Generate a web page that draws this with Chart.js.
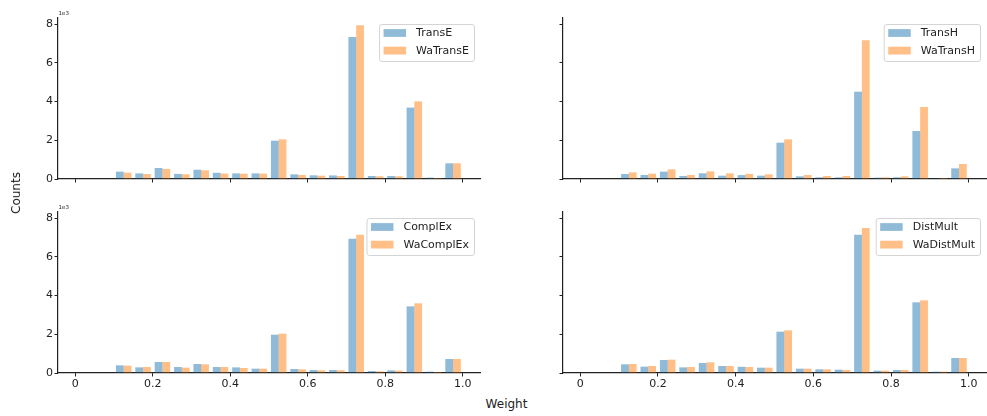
<!DOCTYPE html>
<html>
<head>
<meta charset="utf-8">
<script src="https://cdn.jsdelivr.net/npm/chart.js@4.4.1/dist/chart.umd.min.js"></script>
<style>
    html, body { margin: 0; padding: 0; background: #fff; }
    #wrap { position: relative; width: 987px; height: 416px; overflow: hidden; font-family: "DejaVu Sans", sans-serif; }
    canvas { position: absolute; }
    .axlab { position: absolute; font-size: 12px; line-height: 12px; color: #222; white-space: nowrap; }
</style>
</head>
<body>
<div id="wrap">
    <canvas id="transE" width="493" height="200" style="left:0;top:0"></canvas>
    <canvas id="transH" width="482" height="200" style="left:505px;top:0"></canvas>
    <canvas id="complEx" width="493" height="200" style="left:0;top:194px"></canvas>
    <canvas id="distMult" width="482" height="200" style="left:505px;top:194px"></canvas>
    <div class="axlab" style="left:15.5px;top:193px;transform:translate(-50%,-50%) rotate(-90deg)">Counts</div>
    <div class="axlab" style="left:506.5px;top:397.5px;transform:translateX(-50%)">Weight</div>
</div>
<script>
/**
 * Histogram data: bin centres (bin width 0.05) and counts per model
 */
var binCenters = [0.025, 0.075, 0.125, 0.175, 0.225, 0.275, 0.325, 0.375, 0.425, 0.475,
                  0.525, 0.575, 0.625, 0.675, 0.725, 0.775, 0.825, 0.875, 0.925, 0.975];

var transE     = [0, 0, 380, 290, 570, 265, 480, 320, 290, 290, 1980, 240, 190, 185, 7340, 155, 155, 3690, 70, 810];
var waTransE   = [0, 0, 330, 260, 520, 245, 450, 280, 275, 275, 2050, 210, 170, 155, 7940, 140, 140, 4010, 50, 810];

var transH     = [0, 0, 260, 210, 380, 155, 295, 172, 200, 172, 1877, 138, 86, 86, 4513, 69, 86, 2480, 35, 551];
var waTransH   = [0, 0, 344, 276, 500, 207, 396, 293, 265, 241, 2050, 207, 155, 155, 7166, 86, 138, 3720, 52, 775];

var complEx    = [0, 0, 396, 293, 568, 310, 465, 310, 290, 224, 1980, 207, 155, 155, 6942, 103, 138, 3445, 69, 723];
var waComplEx  = [0, 0, 379, 310, 568, 276, 448, 310, 260, 224, 2033, 190, 138, 138, 7148, 86, 121, 3600, 52, 723];

var distMult   = [0, 0, 448, 327, 672, 293, 517, 362, 320, 276, 2136, 224, 190, 172, 7149, 121, 155, 3652, 69, 775];
var waDistMult = [0, 0, 465, 362, 689, 310, 551, 362, 310, 276, 2205, 224, 190, 155, 7494, 121, 155, 3755, 69, 775];

var xTickValues = [0, 0.2, 0.4, 0.6, 0.8, 1.0];
var xTickLabels = ['0', '0.2', '0.4', '0.6', '0.8', '1.0'];
var yTickValues = [0, 2000, 4000, 6000, 8000];
var yTickLabels = ['0', '2', '4', '6', '8'];

var blue = 'rgba(31,119,180,0.5)';
var orange = 'rgba(255,127,14,0.5)';
var ink = '#222';
var font = '"DejaVu Sans", sans-serif';

/**
 * matplotlib-style legend box and the "1e3" offset text
 */
var panelDecor = {
    id: 'panelDecor',
    afterDraw: function (chart) {
        var ctx = chart.ctx;
        var area = chart.chartArea;
        var sets = chart.data.datasets;
        ctx.save();

        ctx.font = '11px ' + font;
        var textW = 0;
        sets.forEach(function (d) { textW = Math.max(textW, ctx.measureText(d.label).width); });
        var w = 4.5 + 22.5 + 10 + textW + 5;
        var h = 37;
        var x = area.right - 6 - w;
        var y = area.top + 6;

        ctx.beginPath();
        if (ctx.roundRect) { ctx.roundRect(x + 0.5, y + 0.5, w, h, 2.5); } else { ctx.rect(x + 0.5, y + 0.5, w, h); }
        ctx.fillStyle = 'rgba(255,255,255,0.8)';
        ctx.fill();
        ctx.strokeStyle = '#d4d4d4';
        ctx.lineWidth = 1;
        ctx.stroke();

        ctx.textBaseline = 'middle';
        ctx.textAlign = 'left';
        sets.forEach(function (d, i) {
            var cy = y + 9 + i * 17.6;
            ctx.fillStyle = d.backgroundColor;
            ctx.fillRect(x + 4.5, cy - 3.9, 22.5, 7.8);
            ctx.fillStyle = ink;
            ctx.fillText(d.label, x + 4.5 + 22.5 + 10, cy + 0.5);
        });

        if (chart.options.plugins.panelDecor.offsetText) {
            ctx.font = '5.5px ' + font;
            ctx.fillStyle = ink;
            ctx.fillText('1e3', area.left + 0.5, area.top - 4);
        }
        ctx.restore();
    }
};

function makePanel(id, nameA, valsA, nameB, valsB, showX, showY, padRight) {
    var ctx = document.getElementById(id).getContext('2d');
    var data = {
        datasets: [
            {
                label: nameA,
                backgroundColor: blue,
                borderWidth: 0,
                data: binCenters.map(function (c, i) { return {x: c, y: valsA[i]}; })
            },
            {
                label: nameB,
                backgroundColor: orange,
                borderWidth: 0,
                data: binCenters.map(function (c, i) { return {x: c, y: valsB[i]}; })
            }
        ]
    };

    var options = {
        responsive: false,
        animation: false,
        events: [],
        barPercentage: 1.0,
        categoryPercentage: 0.8,
        layout: {padding: {top: 18, right: padRight, left: 0, bottom: 0}},
        plugins: {
            legend: {display: false},
            tooltip: {enabled: false},
            panelDecor: {offsetText: showY}
        },
        scales: {
            x: {
                type: 'linear',
                min: -0.0445,
                max: 1.0445,
                offset: false,
                afterBuildTicks: function (s) { s.ticks = xTickValues.map(function (v) { return {value: v}; }); },
                afterFit: function (s) { s.height = 21; },
                grid: {offset: false, drawOnChartArea: false, drawTicks: true, tickLength: 3.5, color: ink, lineWidth: 1},
                border: {display: true, color: ink, width: 1.2},
                ticks: {
                    display: showX,
                    padding: 1,
                    maxRotation: 0,
                    autoSkip: false,
                    color: ink,
                    font: {family: font, size: 11},
                    callback: function (v) { return xTickLabels[xTickValues.indexOf(v)]; }
                }
            },
            y: {
                min: 0,
                max: 8320,
                afterBuildTicks: function (s) { s.ticks = yTickValues.map(function (v) { return {value: v}; }); },
                afterFit: function (s) { s.width = 58; },
                grid: {drawOnChartArea: false, drawTicks: true, tickLength: 3.5, color: ink, lineWidth: 1},
                border: {display: true, color: ink, width: 1.2},
                ticks: {
                    display: showY,
                    padding: 1.5,
                    color: ink,
                    font: {family: font, size: 11},
                    callback: function (v) { return yTickLabels[yTickValues.indexOf(v)]; }
                }
            }
        }
    };

    new Chart(ctx, {type: 'bar', data: data, options: options, plugins: [panelDecor]});
}

makePanel('transE', 'TransE', transE, 'WaTransE', waTransE, false, true, 13);
makePanel('transH', 'TransH', transH, 'WaTransH', waTransH, false, false, 1);
makePanel('complEx', 'ComplEx', complEx, 'WaComplEx', waComplEx, true, true, 13);
makePanel('distMult', 'DistMult', distMult, 'WaDistMult', waDistMult, true, false, 1);
</script>
</body>
</html>
